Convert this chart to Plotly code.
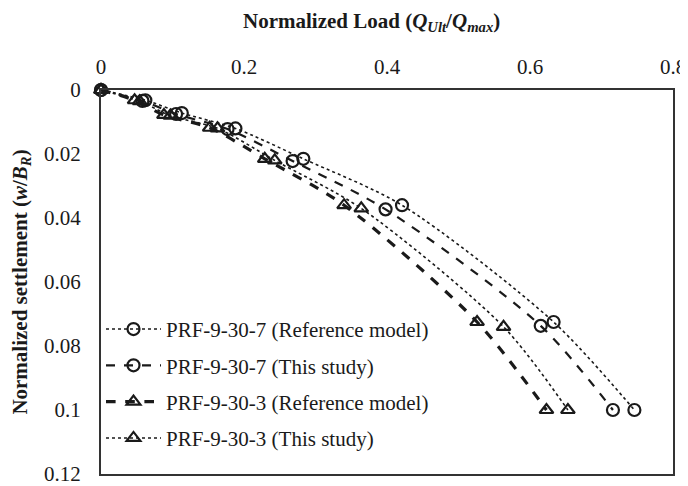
import plotly.graph_objects as go

# Normalized load (x) and normalized settlement (y)
ref7_x = [0.0, 0.062, 0.113, 0.188, 0.283, 0.421, 0.633, 0.746]
ref7_y = [0.0, 0.0032, 0.0072, 0.0120, 0.0215, 0.0360, 0.0725, 0.1000]

this7_x = [0.0, 0.058, 0.105, 0.177, 0.268, 0.398, 0.615, 0.716]
this7_y = [0.0, 0.0034, 0.0075, 0.0122, 0.0222, 0.0373, 0.0737, 0.1000]

ref3_x = [0.0, 0.047, 0.088, 0.152, 0.229, 0.340, 0.526, 0.623]
ref3_y = [0.0, 0.0032, 0.0078, 0.0118, 0.0215, 0.0360, 0.0725, 0.1000]

this3_x = [0.0, 0.054, 0.097, 0.163, 0.243, 0.364, 0.563, 0.653]
this3_y = [0.0, 0.0035, 0.0080, 0.0120, 0.0220, 0.0370, 0.0740, 0.1000]

names = ["PRF-9-30-7 (Reference model)", "PRF-9-30-7 (This study)",
         "PRF-9-30-3 (Reference model)", "PRF-9-30-3 (This study)"]

xticks = [0, 0.2, 0.4, 0.6, 0.8]
xtick_labels = ["0", "0.2", "0.4", "0.6", "0.8"]
yticks = [0, 0.02, 0.04, 0.06, 0.08, 0.1, 0.12]
ytick_labels = ["0", "0.02", "0.04", "0.06", "0.08", "0.1", "0.12"]

x_title = "<b>Normalized Load (<i>Q<sub>Ult</sub></i>/<i>Q<sub>max</sub></i>)</b>"
y_title = "<b>Normalized settlement (<i>w</i>/<i>B<sub>R</sub></i>)</b>"

series = [
    (ref7_x, ref7_y, names[0], "dot", 1.6, "circle-open"),
    (this7_x, this7_y, names[1], "dash", 2.2, "circle-open"),
    (ref3_x, ref3_y, names[2], "dash", 3.2, "triangle-up-open"),
    (this3_x, this3_y, names[3], "dot", 1.6, "triangle-up-open"),
]

fig = go.Figure()
for i, (xs, ys, nm, dash, w, sym) in enumerate(series):
    fig.add_trace(go.Scatter(
        x=xs, y=ys, name=nm, mode="lines+markers",
        line=dict(color="#1a1a1a", width=w, dash=dash, shape="spline", smoothing=0.8),
        marker=dict(symbol=sym, size=12, color="#1a1a1a", line=dict(width=2.2, color="#1a1a1a")),
        cliponaxis=False, legendgroup=f"g{i}",
    ))

serif = "Liberation Serif"
fig.update_layout(
    width=680, height=478,
    margin=dict(l=93, r=15, t=82, b=12),
    paper_bgcolor="white", plot_bgcolor="white",
    font=dict(family=serif, size=21, color="#1a1a1a"),
    showlegend=True,
    legend=dict(x=0.0, y=0.43, xanchor="left", yanchor="top",
                bgcolor="rgba(255,255,255,0)", font=dict(family=serif, size=21),
                tracegroupgap=6, itemwidth=55, traceorder="grouped"),
    xaxis=dict(
        side="top", range=[0, 0.8], tickvals=xticks, ticktext=xtick_labels,
        showgrid=False, zeroline=False, showline=True, mirror=True,
        linecolor="#333", linewidth=2, ticks="", tickfont=dict(family=serif, size=21),
        ticklabelstandoff=6, automargin=False, ticklabeloverflow="allow",
    ),
    yaxis=dict(
        range=[0.12, 0], tickvals=yticks, ticktext=ytick_labels,
        showgrid=False, zeroline=False, showline=True, mirror=True,
        linecolor="#333", linewidth=2, ticks="", tickfont=dict(family=serif, size=21),
        ticklabelstandoff=14, automargin=False, ticklabeloverflow="allow",
        title=dict(text=y_title, font=dict(family=serif, size=21), standoff=14),
    ),
    annotations=[dict(
        text=x_title, xref="paper", yref="paper", x=0.473, y=1.177,
        xanchor="center", yanchor="middle", showarrow=False,
        font=dict(family=serif, size=21, color="#1a1a1a"),
    )],
)

fig.write_html("out.html")
